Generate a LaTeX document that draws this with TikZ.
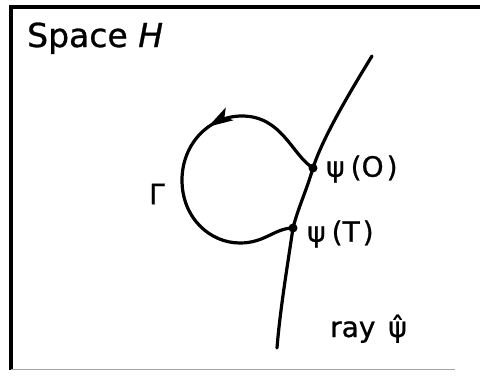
\documentclass[tikz,border=0pt]{standalone}
\usepackage{fontspec}
\setmainfont{DejaVu Sans}
\newfontface\lblfont{DejaVu Sans}[FakeBold=0.9]
\newfontface\lblit{DejaVu Sans Oblique}[FakeBold=0.9]
\usetikzlibrary{decorations.markings}
\tikzset{
  curve/.style={line width=3.2pt, line cap=round, line join=round},
  lbl/.style={inner sep=0pt, font=\fontsize{28}{28}\lblfont},
  dotpt/.style={circle, fill=black, inner sep=0pt, minimum size=9pt},
}
\begin{document}
\begin{tikzpicture}[x=1pt,y=-1pt]
\useasboundingbox (0,0) rectangle (480,376);
% frame
\draw[line width=3.5pt] (480,7) -- (11,7) -- (11,370);
\draw[line width=1pt, black!35] (11,369) -- (455,369);
% title
\node[anchor=base west, inner sep=0pt, font=\fontsize{33}{33}\lblfont] (title) at (27,47) {Space {\lblit H}};
% points
\coordinate (raytop) at (372,56);
\coordinate (raybot) at (277,348);
\node[dotpt] (psi0) at (313,168) {};
\node[dotpt] (psiT) at (293,228) {};
% ray
\draw[curve] (raytop) .. controls (345,100) and (322,140) .. (psi0.center)
  .. controls (306,192) and (298,208) .. (psiT.center)
  .. controls (288,262) and (280,310) .. (raybot);
% loop Gamma
\draw[curve, decoration={markings, mark=at position 0.36 with {\fill[line width=0pt] (5pt,0pt) -- (-20pt,-7.5pt) -- (-14pt,0pt) -- (-20pt,7.5pt) -- cycle;}}, postaction={decorate}]
  (psi0.center) .. controls (292,155) and (282,116) .. (242,116)
  .. controls (208,116) and (182,145) .. (182,180)
  .. controls (182,218) and (210,243) .. (240,243)
  .. controls (265,243) and (275,228) .. (psiT.center);
% labels
\node[lbl, anchor=west] (l0) at (326,169) {ψ\hspace{6pt}(O\hspace{3pt})};
\node[lbl, anchor=west] (lT) at (307,234) {ψ\hspace{6pt}(T\hspace{3pt})};
\node[lbl, anchor=center] (gam) at (157,194) {Γ};
\node[lbl, anchor=base west] (ray) at (330,337) {ray\hspace{4pt} \^{ψ}};
\end{tikzpicture}
\end{document}
